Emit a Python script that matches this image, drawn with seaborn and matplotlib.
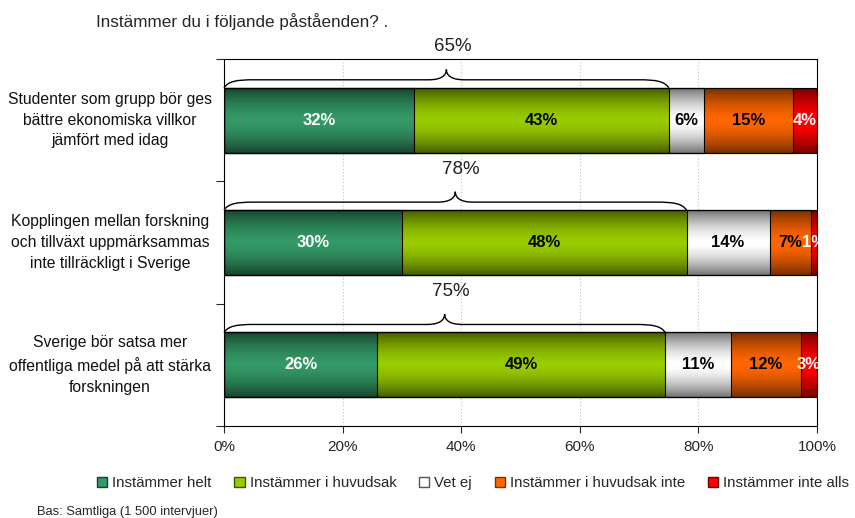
import numpy as np
import pandas as pd
import matplotlib
matplotlib.use("Agg")
import matplotlib.pyplot as plt
import matplotlib.transforms as mtransforms
from matplotlib.patches import Rectangle, Patch, PathPatch
from matplotlib.path import Path
from matplotlib.ticker import PercentFormatter
import seaborn as sns

# data
statements = [
    "Studenter som grupp bör ges\nbättre ekonomiska villkor\njämfört med idag",
    "Kopplingen mellan forskning\noch tillväxt uppmärksammas\ninte tillräckligt i Sverige",
    "Sverige bör satsa mer\noffentliga medel på att stärka\nforskningen",
]
categories = ["Instämmer helt", "Instämmer i huvudsak", "Vet ej",
              "Instämmer i huvudsak inte", "Instämmer inte alls"]
helt = [32, 30, 25.8]
huvudsak = [43, 48, 48.6]
vet_ej = [6, 14, 11.1]
huvudsak_inte = [15, 7, 11.8]
inte_alls = [4, 1, 2.7]
brace_labels = ["65%", "78%", "75%"]

colors = ["#339966", "#99cc00", "#ffffff", "#ff6600", "#ff0000"]
edge_colors = ["#17402b", "#3f5500", "#555555", "#7a3000", "#700000"]
label_colors = ["white", "black", "black", "black", "white"]

values = np.array([helt, huvudsak, vet_ej, huvudsak_inte, inte_alls])
cum = values.cumsum(axis=0)

rows = []
for ci, cat in enumerate(categories):
    for si, st in enumerate(statements):
        rows.append({"statement": st, "category": cat, "cum": cum[ci, si]})
df = pd.DataFrame(rows)

sns.set_style("white")
plt.rcParams["font.family"] = ["Liberation Sans", "DejaVu Sans"]

fig = plt.figure(figsize=(8.55, 5.18), dpi=100)
ax = fig.add_axes([0.262, 0.1776, 0.6936, 0.7085])

bar_h = 0.53
# widest (cumulative) bars first, so each shorter one sits on top
sns.barplot(data=df, y="statement", x="cum", hue="category",
            hue_order=categories[::-1], order=statements,
            palette=dict(zip(categories, colors)), dodge=False,
            width=bar_h, saturation=1, legend=False, orient="h",
            edgecolor="none", linewidth=0, ax=ax)

# vertical shading on each bar row (dark edges, light middle)
t = np.linspace(0, 1, 200)
alpha = 0.55 * np.abs(2 * t - 1) ** 1.6
shade = np.zeros((200, 2, 4))
shade[..., 3] = alpha[:, None]
bars = list(ax.patches)
for si in range(len(statements)):
    row = [p for p in bars if abs(p.get_y() + p.get_height() / 2 - si) < 0.01]
    x0 = min(p.get_x() for p in row)
    x1 = max(p.get_x() + p.get_width() for p in row)
    y0 = row[0].get_y()
    y1 = y0 + row[0].get_height()
    ax.imshow(shade, extent=[x0, x1, y1, y0], aspect="auto",
              interpolation="bilinear", zorder=2)

# outlines of the bar segments
for p in bars:
    ax.add_patch(Rectangle(p.get_xy(), p.get_width(), p.get_height(),
                           fill=False, ec="black", lw=0.8, zorder=3))

# segment labels
for ci in range(len(categories)):
    for si in range(len(statements)):
        v = values[ci, si]
        left = cum[ci, si] - v
        ax.text(left + v / 2, si, f"{v:.0f}%", ha="center", va="center",
                fontsize=12, fontweight="bold", color=label_colors[ci], zorder=4)


def brace(ax, x0, x1, yb, rise=0.065, peak=0.15, d=5, c=3):
    yh = yb - rise
    yp = yb - peak
    xm = (x0 + x1) / 2
    verts = [
        (x0, yb),
        (x0 + d * 0.15, yh + (yb - yh) * 0.2), (x0 + d * 0.4, yh), (x0 + d, yh),
        (xm - c, yh),
        (xm - c * 0.3, yh), (xm, yh - (yh - yp) * 0.4), (xm, yp),
        (xm, yh - (yh - yp) * 0.4), (xm + c * 0.3, yh), (xm + c, yh),
        (x1 - d, yh),
        (x1 - d * 0.4, yh), (x1 - d * 0.15, yh + (yb - yh) * 0.2), (x1, yb),
    ]
    codes = [Path.MOVETO,
             Path.CURVE4, Path.CURVE4, Path.CURVE4,
             Path.LINETO,
             Path.CURVE4, Path.CURVE4, Path.CURVE4,
             Path.CURVE4, Path.CURVE4, Path.CURVE4,
             Path.LINETO,
             Path.CURVE4, Path.CURVE4, Path.CURVE4]
    ax.add_patch(PathPatch(Path(verts, codes), fill=False, ec="black",
                           lw=1.0, zorder=4, clip_on=False))
    return xm


for si in range(len(statements)):
    net = cum[1, si]
    yb = si - bar_h / 2
    xm = brace(ax, 0, net, yb)
    ax.text(xm + 1, yb - 0.335, brace_labels[si], ha="center", va="center",
            fontsize=13.5, color="#222222")

# axes
ax.set_xlim(0, 100)
ax.set_ylim(len(statements) - 0.5, -0.5)
ax.set_xticks(np.arange(0, 101, 20))
ax.xaxis.set_major_formatter(PercentFormatter(100, decimals=0))
ax.set_yticks(np.arange(-0.5, len(statements), 1.0))
ax.set_yticklabels([])
ax.set_xlabel("")
ax.set_ylabel("")
ax.tick_params(axis="x", length=5, width=0.8, direction="out", labelsize=11,
               pad=5, bottom=True)
ax.tick_params(axis="y", length=6, width=0.8, direction="out", left=True)
ax.grid(axis="x", ls=(0, (1, 2)), color="#c0c0c0", lw=0.8)
ax.set_axisbelow(True)
for s in ax.spines.values():
    s.set_visible(True)
    s.set_color("black")
    s.set_linewidth(0.8)

trans = mtransforms.blended_transform_factory(ax.transAxes, ax.transData)
for si, st in enumerate(statements):
    ax.text(-0.192, si, st, transform=trans, ha="center", va="center",
            fontsize=11.3, linespacing=1.48, color="#111111")

fig.text(96 / 855, 1 - 22 / 518, "Instämmer du i följande påståenden? .",
         ha="left", va="center", fontsize=12.3)
fig.text(37 / 855, 1 - 512 / 518, "Bas: Samtliga (1 500 intervjuer)",
         ha="left", va="center", fontsize=9.3)

handles = [Patch(facecolor=c, edgecolor=e, lw=1.0)
           for c, e in zip(colors, edge_colors)]
fig.legend(handles, categories, loc="center left",
           bbox_to_anchor=(97 / 855, 1 - 483 / 518), ncol=5, frameon=False,
           fontsize=10.8, handlelength=0.68, handleheight=0.68,
           handletextpad=0.35, columnspacing=1.5, borderaxespad=0,
           borderpad=0)

fig.savefig("out.png", dpi=100)
